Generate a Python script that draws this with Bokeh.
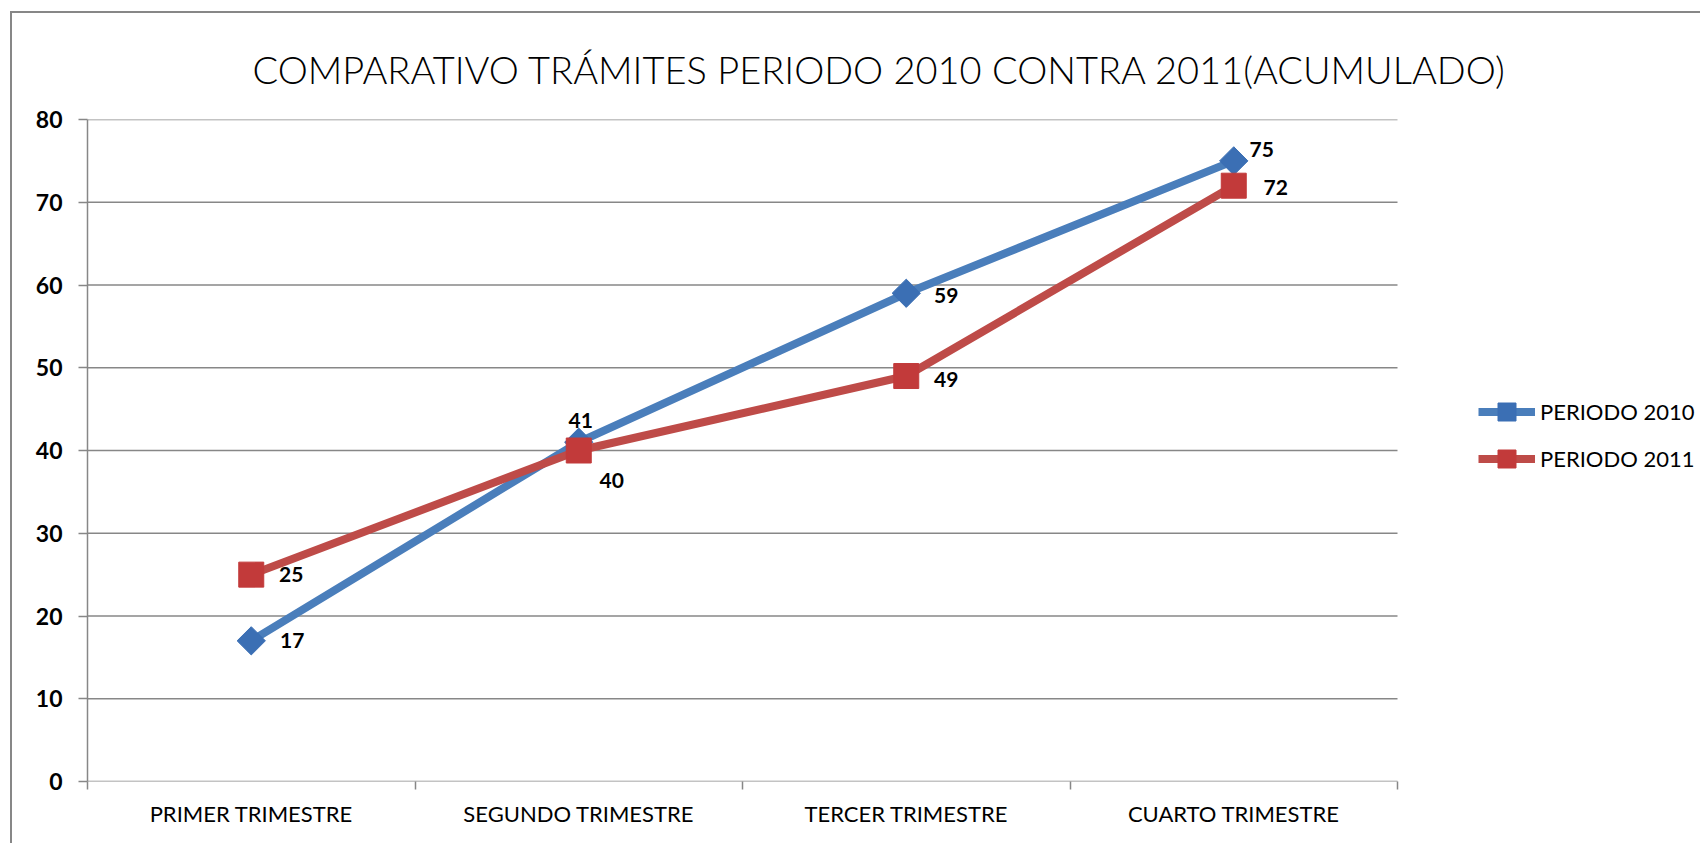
import math
from bokeh.plotting import figure
from bokeh.models import (Range1d, FixedTicker, ColumnDataSource, Legend, LegendItem)
from bokeh.core.properties import value
from bokeh.embed import file_html
from bokeh.resources import INLINE

# ---- data ----
categories = ["PRIMER TRIMESTRE", "SEGUNDO TRIMESTRE", "TERCER TRIMESTRE", "CUARTO TRIMESTRE"]
periodo_2010 = [17, 41, 59, 75]
periodo_2011 = [25, 40, 49, 72]
series_names = ["PERIODO 2010", "PERIODO 2011"]
y_ticks = [0, 10, 20, 30, 40, 50, 60, 70, 80]
title_text = "COMPARATIVO TRÁMITES PERIODO 2010 CONTRA 2011(ACUMULADO)"

# ---- styling / layout ----
BLUE_LINE = "#4A7EBB"
BLUE_MARK = "#3B6FB4"
RED_LINE = "#BE4B48"
RED_MARK = "#C23A3A"
GRID = "#878787"
FONT = "Lato"
FIG_W, FIG_H = 1690, 832
BORDER_L, BORDER_T, BORDER_B = 75, 106, 64
PLOT_W = 1310                      # width of the category area in px
FRAME_W = FIG_W - BORDER_L         # frame runs to the right edge (legend lives inside it)

# label offsets (screen px) for each data label
off_2010 = ([41, 2, 40, 28], [0, -22, 2, -11])
off_2011 = ([40, 33, 40, 42], [0, 30, 3, 2])

n = len(categories)
xpos = [i + 0.5 for i in range(n)]
x_end = n * FRAME_W / PLOT_W

p = figure(width=FIG_W, height=FIG_H,
           x_range=Range1d(0, x_end), y_range=Range1d(y_ticks[0], y_ticks[-1]),
           min_border_left=BORDER_L, min_border_right=0, min_border_top=BORDER_T,
           min_border_bottom=BORDER_B, output_backend="svg", toolbar_location=None)
p.styles = {"border-left": "2px solid #878787", "border-top": "2px solid #878787",
            "margin-left": "10px", "margin-top": "11px"}
p.outline_line_color = None
p.background_fill_color = "white"
p.border_fill_color = "white"

# title
p.title.text = title_text
p.title.text_font = "Lato Light"
p.title.text_font_style = "normal"
p.title.text_font_size = "38px"
p.title.text_color = "black"
p.title.align = "left"
p.title.offset = 165
p.title.standoff = 56

# horizontal grid lines limited to the category area
p.xgrid.visible = False
p.ygrid.visible = False
p.segment(x0=[0] * len(y_ticks), x1=[n] * len(y_ticks), y0=y_ticks, y1=y_ticks,
          line_color=GRID, line_width=1.5)

# y axis
p.yaxis.ticker = FixedTicker(ticks=y_ticks)
p.yaxis.axis_line_color = GRID
p.yaxis.axis_line_width = 1.5
p.yaxis.major_tick_line_color = GRID
p.yaxis.major_tick_line_width = 1.5
p.yaxis.major_tick_out = 9
p.yaxis.major_tick_in = 0
p.yaxis.minor_tick_line_color = None
p.yaxis.major_label_standoff = 16
p.yaxis.major_label_text_font = FONT
p.yaxis.major_label_text_font_style = "bold"
p.yaxis.major_label_text_font_size = "23px"
p.yaxis.major_label_text_color = "black"

# x axis (labels at band centres, ticks at band edges)
p.xaxis.ticker = FixedTicker(ticks=xpos, minor_ticks=list(range(n + 1)))
p.xaxis.major_label_overrides = {x: c for x, c in zip(xpos, categories)}
p.xaxis.axis_line_color = None
p.xaxis.major_tick_line_color = None
p.xaxis.major_tick_out = 0
p.xaxis.major_tick_in = 0
p.xaxis.minor_tick_line_color = GRID
p.xaxis.minor_tick_line_width = 1.5
p.xaxis.minor_tick_out = 8
p.xaxis.minor_tick_in = 0
p.xaxis.major_label_standoff = 10
p.xaxis.major_label_text_font = FONT
p.xaxis.major_label_text_font_size = "22px"
p.xaxis.major_label_text_color = "black"

items = []
for name, vals, offs, lc, mc, ang, size in [
    (series_names[0], periodo_2010, off_2010, BLUE_LINE, BLUE_MARK, math.pi / 4, 20),
    (series_names[1], periodo_2011, off_2011, RED_LINE, RED_MARK, 0, 25),
]:
    src = ColumnDataSource(dict(x=xpos, y=vals, t=[str(v) for v in vals],
                                dx=offs[0], dy=offs[1]))
    ln = p.line("x", "y", source=src, line_color=lc, line_width=8, line_join="round")
    sc = p.scatter("x", "y", source=src, marker="square", angle=ang, size=size,
                   fill_color=mc, line_color=mc, line_width=1)
    items.append(LegendItem(label=name, renderers=[ln, sc]))
    p.text("x", "y", text="t", source=src, x_offset="dx", y_offset="dy",
           text_align="center", text_baseline="middle", text_color="black",
           text_font=value(FONT), text_font_style="bold", text_font_size="21px")

legend = Legend(items=items, location=(PLOT_W + 81, 300), orientation="vertical",
                padding=0, margin=0, spacing=2, glyph_width=57, glyph_height=45,
                label_height=45, label_standoff=5, border_line_color=None,
                background_fill_alpha=0, label_text_font=FONT,
                label_text_font_size="22px", label_text_color="black")
p.add_layout(legend, "center")

open("out.html", "w").write(file_html(p, INLINE))
